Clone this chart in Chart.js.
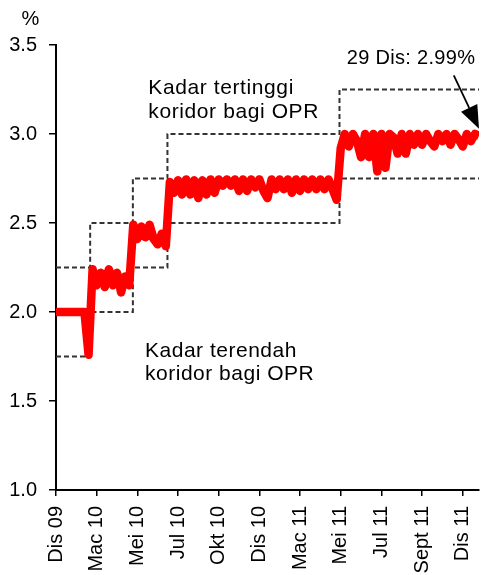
<!DOCTYPE html>
<html>
<head>
<meta charset="utf-8">
<script src="https://cdn.jsdelivr.net/npm/chart.js@4"></script>
<style>
  html, body { margin: 0; padding: 0; background: #fff; }
  #wrap { width: 481px; height: 575px; }
</style>
</head>
<body>
<div id="wrap"><canvas id="oprChart" width="481" height="575"></canvas></div>
<script>
// x axis labels, one every 10 steps
var tickLabels = ["Dis 09", "Mac 10", "Mei 10", "Jul 10", "Okt 10", "Dis 10", "Mac 11", "Mei 11", "Jul 11", "Sept 11", "Dis 11"];

// overnight rate (%), about one point per week
var rateValues = [
  2.0, 2.0, 2.0, 2.0, 2.0, 2.0, 2.0, 2.0, 1.76,
  2.24, 2.15, 2.22, 2.14, 2.24, 2.15, 2.22, 2.11, 2.2, 2.15,
  2.49, 2.41, 2.48, 2.42, 2.49, 2.41, 2.38, 2.44, 2.37,
  2.73, 2.67, 2.74, 2.66, 2.745, 2.66, 2.74, 2.64, 2.74, 2.66,
  2.745, 2.67, 2.745, 2.71, 2.745, 2.71, 2.745, 2.68, 2.745, 2.68,
  2.745, 2.7, 2.745, 2.68, 2.64, 2.745, 2.69, 2.745, 2.69, 2.745,
  2.67, 2.745, 2.68, 2.745, 2.69, 2.745, 2.69, 2.745, 2.69, 2.745,
  2.69, 2.63,
  2.92, 3.0, 2.93, 3.0, 2.96, 2.87, 3.0, 2.87, 3.0, 2.79,
  3.0, 2.81, 3.0, 2.98, 2.89, 3.0, 2.89, 3.0, 2.94, 3.0,
  2.94, 3.0, 2.96, 2.93, 3.0, 2.96, 3.0, 2.94, 3.0, 2.97,
  2.93, 3.0, 2.96, 3.0, 2.99
];

// OPR corridor: where each level starts (x steps) and the levels
var corridorStarts = [0, 8.4, 18.9, 27.4, 69.7, 104];
var corridorLow = [1.75, 2.0, 2.25, 2.5, 2.75, 2.75];
var corridorHigh = [2.25, 2.5, 2.75, 3.0, 3.25, 3.25];

var fontFamily = '"Liberation Sans", Arial, sans-serif';

// text notes, anchored in data units (x step, %)
var notes = [
  { lines: ["Kadar tertinggi", "koridor bagi OPR"], x: 22.7, y: 3.223, size: 21, spacing: 0.6 },
  { lines: ["Kadar terendah", "koridor bagi OPR"], x: 21.9, y: 1.75, size: 21, spacing: 0.5 },
  { lines: ["29 Dis: 2.99%"], x: 71.5, y: 3.392, size: 20, spacing: 0.3 }
];
var arrowFrom = { x: 97.8, y: 3.33 };
var arrowTo = { x: 104, y: 3.03 };

var notesPlugin = {
  id: 'notes',
  afterDraw: function(chart) {
    var ctx = chart.ctx;
    var sx = chart.scales.x, sy = chart.scales.y;
    ctx.save();
    ctx.fillStyle = '#000';
    ctx.textAlign = 'left';
    ctx.textBaseline = 'alphabetic';
    notes.forEach(function(n) {
      ctx.font = n.size + 'px ' + fontFamily;
      ctx.letterSpacing = n.spacing + 'px';
      var px = sx.getPixelForValue(n.x);
      var py = sy.getPixelForValue(n.y);
      n.lines.forEach(function(t, i) {
        ctx.fillText(t, px, py + i * 23.5);
      });
    });

    // "%" unit above the y axis
    ctx.letterSpacing = '0px';
    ctx.font = '20px ' + fontFamily;
    ctx.textAlign = 'center';
    ctx.fillText('%', chart.chartArea.left - 25.5, chart.chartArea.top - 20);

    // arrow to the last value
    var x1 = sx.getPixelForValue(arrowFrom.x), y1 = sy.getPixelForValue(arrowFrom.y);
    var x2 = sx.getPixelForValue(arrowTo.x), y2 = sy.getPixelForValue(arrowTo.y);
    var ang = Math.atan2(y2 - y1, x2 - x1);
    var head = 23, half = 9;
    var bx = x2 - head * Math.cos(ang), by = y2 - head * Math.sin(ang);
    ctx.strokeStyle = '#000';
    ctx.lineWidth = 1.8;
    ctx.beginPath();
    ctx.moveTo(x1, y1);
    ctx.lineTo(bx, by);
    ctx.stroke();
    ctx.beginPath();
    ctx.moveTo(x2, y2);
    ctx.lineTo(bx + half * Math.sin(ang), by - half * Math.cos(ang));
    ctx.lineTo(bx - half * Math.sin(ang), by + half * Math.cos(ang));
    ctx.closePath();
    ctx.fill();
    ctx.restore();
  }
};

var ctx = document.getElementById('oprChart').getContext('2d');
var oprChart = new Chart(ctx, {
  type: 'line',
  data: {
    datasets: [{
      data: rateValues.map(function(v, i) { return { x: i, y: v }; }),
      borderColor: '#ff0000',
      borderWidth: 8.5,
      borderJoinStyle: 'round',
      pointRadius: 0,
      tension: 0
    }, {
      data: corridorStarts.map(function(x, i) { return { x: x, y: corridorHigh[i] }; }),
      borderColor: '#333333',
      borderWidth: 2,
      borderDash: [5, 3],
      stepped: true,
      pointRadius: 0
    }, {
      data: corridorStarts.map(function(x, i) { return { x: x, y: corridorLow[i] }; }),
      borderColor: '#333333',
      borderWidth: 2,
      borderDash: [5, 3],
      stepped: true,
      pointRadius: 0
    }]
  },
  options: {
    responsive: false,
    animation: false,
    layout: { padding: { top: 45, right: 2, left: 0, bottom: 0 } },
    plugins: {
      legend: { display: false },
      tooltip: { enabled: false }
    },
    scales: {
      x: {
        type: 'linear',
        min: 0,
        max: 104,
        border: { color: '#000', width: 2 },
        grid: { drawOnChartArea: false, color: '#000', lineWidth: 1.5, tickLength: 6 },
        ticks: {
          stepSize: 10,
          includeBounds: false,
          autoSkip: false,
          minRotation: 90,
          maxRotation: 90,
          padding: 10,
          color: '#000',
          font: { family: fontFamily, size: 20 },
          callback: function(v) {
            var k = Math.round(v / 10);
            return Math.abs(v - k * 10) < 0.01 ? tickLabels[k] : '';
          }
        },
        afterFit: function(s) {
          s.height = 85;
          s.paddingLeft = 0;
          s.paddingRight = 0;
        }
      },
      y: {
        min: 1,
        max: 3.5,
        border: { color: '#000', width: 2 },
        grid: { drawOnChartArea: false, color: '#000', lineWidth: 1.5, tickLength: 7 },
        ticks: {
          stepSize: 0.5,
          padding: 12,
          color: '#000',
          font: { family: fontFamily, size: 20 },
          callback: function(v) { return v.toFixed(1); }
        },
        afterFit: function(s) {
          s.width = 56;
          s.paddingTop = 0;
          s.paddingBottom = 0;
        }
      }
    }
  },
  plugins: [notesPlugin]
});
</script>
</body>
</html>
